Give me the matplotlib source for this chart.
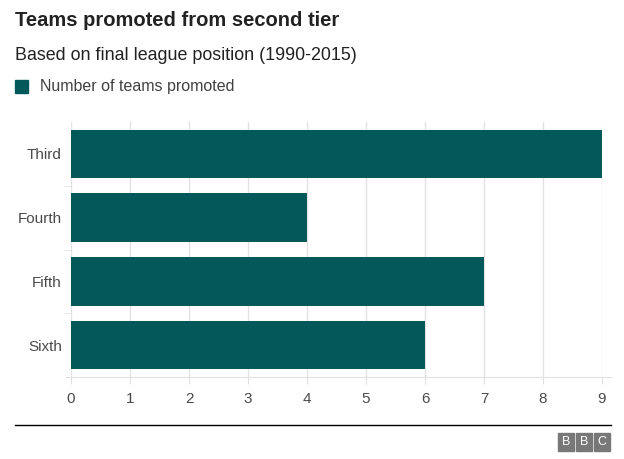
import matplotlib.pyplot as plt
from matplotlib.patches import Rectangle

positions = ["Third", "Fourth", "Fifth", "Sixth"]
promoted = [9, 4, 7, 6]
x_ticks = [0, 1, 2, 3, 4, 5, 6, 7, 8, 9]

W, H = 624, 459
fig = plt.figure(figsize=(W / 100, H / 100), dpi=100)
plt.rcParams['font.family'] = ['Liberation Sans', 'DejaVu Sans']

# axes box in pixels: left 71, right 602, top 122, bottom 377
ax = fig.add_axes([71 / W, 1 - 377 / H, (602 - 71) / W, (377 - 122) / H])

ypos = list(range(len(positions)))
ax.barh(ypos, promoted, height=0.76, color='#03585a', zorder=3)
ax.set_ylim(len(positions) - 0.5, -0.5)
ax.set_xlim(0, 9)

ax.set_xticks(x_ticks)
ax.set_xticklabels([str(t) for t in x_ticks], fontsize=11, color='#4a4a4a')
ax.set_yticks(ypos)
ax.set_yticklabels(positions, fontsize=11, color='#4a4a4a')
ax.tick_params(axis='y', length=0, pad=6.5)
ax.tick_params(axis='x', length=5, color='#e0e0e0', pad=6)
ax.set_yticks([0.5, 1.5, 2.5], minor=True)
ax.tick_params(axis='y', which='minor', length=5, color='#e0e0e0')

ax.grid(axis='x', color='#e3e3e3', linewidth=1, zorder=0)
for s in ['top', 'right', 'left']:
    ax.spines[s].set_visible(False)
ax.spines['bottom'].set_color('#e0e0e0')
ax.spines['bottom'].set_bounds(-0.08, 9.15)

fig.text(15 / W, 1 - 21 / H, "Teams promoted from second tier", fontsize=14.5,
         fontweight='bold', color='#222222', va='center')
fig.text(15 / W, 1 - 55 / H, "Based on final league position (1990-2015)",
         fontsize=12.9, color='#222222', va='center')
fig.patches.append(Rectangle((15 / W, 1 - 93 / H), 13 / W, 13 / H,
                             transform=fig.transFigure, color='#03585a'))
fig.text(40 / W, 1 - 86 / H, "Number of teams promoted", fontsize=11.5,
         color='#404040', va='center')

fig.add_artist(plt.Line2D([15 / W, 611 / W], [1 - 425 / H, 1 - 425 / H],
                          transform=fig.transFigure, color='black', linewidth=1))
for i, ch in enumerate("BBC"):
    x0 = 558 + i * 18
    fig.patches.append(Rectangle((x0 / W, 1 - 451 / H), 16 / W, 18 / H,
                                 transform=fig.transFigure, color='#787878'))
    fig.text((x0 + 8) / W, 1 - 442 / H, ch, fontsize=9, color='white',
             ha='center', va='center')

fig.savefig("out.png", dpi=100)
